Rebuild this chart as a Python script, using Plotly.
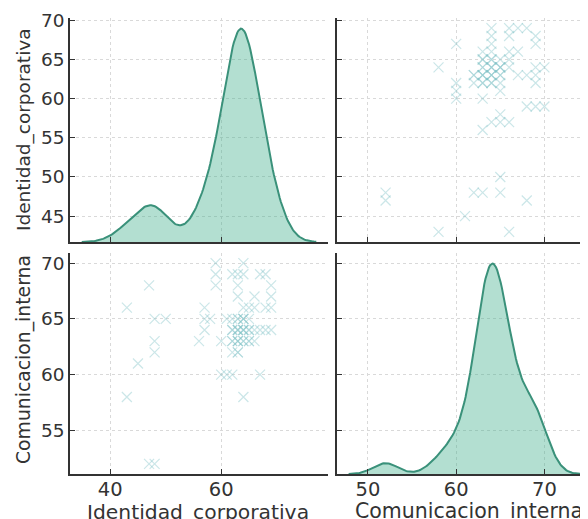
import numpy as np
import plotly.graph_objects as go

# ---- data (paired observations) ----
identidad_corporativa = [43, 43, 45, 47, 47, 48, 48, 48, 48, 50,
                         56, 57, 57, 58, 57, 59, 59, 59, 60, 60, 61, 62, 67, 64,
                         61, 62, 63, 64, 65,
                         62, 63, 64, 65, 66, 67, 68, 69,
                         62, 63, 64, 65, 66,
                         62, 63,
                         64, 62, 63, 64, 67, 68,
                         63, 69,
                         63, 66, 69,
                         64, 65, 66, 68, 69,
                         62, 63, 63, 64, 64, 65,
                         63, 63, 64, 65, 62,
                         63, 64, 64,
                         63]
comunicacion_interna = [66, 58, 61, 68, 52, 52, 65, 63, 62, 65,
                        63, 66, 65, 65, 64, 70, 69, 68, 63, 60, 60, 60, 60, 58,
                        65, 65, 65, 65, 65,
                        64, 64, 64, 64, 64, 64, 64, 64,
                        63, 63, 63, 63, 63,
                        62, 62,
                        70, 69, 69, 69, 69, 69,
                        68, 68,
                        67, 67, 67,
                        66, 66, 66, 66, 66,
                        64, 64, 64, 64, 64, 64,
                        63, 63, 63, 63, 63,
                        65, 65, 65,
                        62]
var_names = ["Identidad_corporativa", "Comunicacion_interna"]
ticks_ident = [40, 60]
ticks_ident_y = [45, 50, 55, 60, 65, 70]
ticks_comm = [50, 60, 70]
ticks_comm_y = [55, 60, 65, 70]

# the page body adds an 8px offset; lay the figure out in reference pixels minus it
OFF = 8
W, H = 588 - OFF, 519 - OFF
ML, MR, MT, MB = 70 - OFF, 0, 18 - OFF, 519 - 474
PW, PH = W - ML - MR, H - MT - MB


def kde(values, cut=3, gridsize=200):
    v = np.asarray(values, float)
    n = len(v)
    bw = v.std(ddof=1) * n ** (-1 / 5)
    xs = np.linspace(v.min() - cut * bw, v.max() + cut * bw, gridsize)
    d = np.exp(-0.5 * ((xs[:, None] - v[None, :]) / bw) ** 2).sum(1) / (n * bw * np.sqrt(2 * np.pi))
    return xs, d


xi, di = kde(identidad_corporativa)
xc, dc = kde(comunicacion_interna)


def pad(lo, hi):
    m = 0.05 * (hi - lo)
    return [lo - m, hi + m]


def pxx(a, b):  # reference pixels -> paper fraction
    return [(a - OFF - ML) / PW, (b - OFF - ML) / PW]


def pxy(top, bottom):
    return [(MT + PH - (bottom - OFF)) / PH, (MT + PH - (top - OFF)) / PH]


col1 = pxx(70, 328)
col2 = pxx(337, 588)
row1 = pxy(18, 242)
row2 = pxy(253, 474)

xr1 = pad(xi[0], xi[-1])
c_full = pad(xc[0], xc[-1])
# right column is cropped at the picture edge like the reference
xr2 = [c_full[0], c_full[0] + (c_full[1] - c_full[0]) * (588 - 337) / (593 - 337)]
yr1 = pad(min(identidad_corporativa), max(identidad_corporativa))
yr2 = pad(min(comunicacion_interna), max(comunicacion_interna))
dr1 = [0, di.max() * 1.05]
dr2 = [0, dc.max() * 1.05]


def to_density(vals, yr, dr):
    return [(v - yr[0]) / (yr[1] - yr[0]) * dr[1] for v in vals]


line_col = "#3a917a"
fill_col = "rgba(64,176,140,0.40)"
mk_col = "rgba(130,195,200,0.42)"
grid_col = "#d9d9d9"
axis_col = "#333333"
txt_col = "#333333"
xfont = dict(family="DejaVu Sans", size=19.5, color=txt_col)
yfont = dict(family="DejaVu Sans", size=18.5, color=txt_col)

fig = go.Figure()
fig.add_trace(go.Scatter(x=xi, y=di, xaxis="x", yaxis="y", mode="lines",
                         line=dict(color=line_col, width=2), fill="tozeroy",
                         fillcolor=fill_col, showlegend=False))
fig.add_trace(go.Scatter(x=comunicacion_interna, y=identidad_corporativa, xaxis="x2", yaxis="y2",
                         mode="markers", marker=dict(symbol="x-thin-open", size=10, color=mk_col,
                                                     line=dict(width=1.2)),
                         showlegend=False))
fig.add_trace(go.Scatter(x=identidad_corporativa, y=comunicacion_interna, xaxis="x3", yaxis="y3",
                         mode="markers", marker=dict(symbol="x-thin-open", size=10, color=mk_col,
                                                     line=dict(width=1.2)),
                         showlegend=False))
fig.add_trace(go.Scatter(x=xc, y=dc, xaxis="x4", yaxis="y4", mode="lines",
                         line=dict(color=line_col, width=2), fill="tozeroy",
                         fillcolor=fill_col, showlegend=False))

common = dict(showline=True, linecolor=axis_col, linewidth=1.5, ticks="inside", ticklen=5,
              tickwidth=1.2, tickcolor=axis_col, showgrid=True, gridcolor=grid_col,
              griddash="3px,3px", gridwidth=1, zeroline=False, mirror=False, fixedrange=True)

fig.update_layout(
    width=W, height=H, margin=dict(l=ML, r=MR, t=MT, b=MB),
    paper_bgcolor="white", plot_bgcolor="white", showlegend=False,
    xaxis=dict(domain=col1, anchor="y", range=xr1, tickvals=ticks_ident, showticklabels=False, **common),
    yaxis=dict(domain=row1, anchor="x", range=dr1, tickvals=to_density(ticks_ident_y, yr1, dr1),
               ticktext=[str(t) for t in ticks_ident_y], tickfont=yfont, **common),
    xaxis2=dict(domain=col2, anchor="y2", range=xr2, tickvals=ticks_comm, showticklabels=False, **common),
    yaxis2=dict(domain=row1, anchor="x2", range=yr1, tickvals=ticks_ident_y, showticklabels=False, **common),
    xaxis3=dict(domain=col1, anchor="y3", range=xr1, tickvals=ticks_ident, tickfont=xfont,
                ticklabelstandoff=-3, **common),
    yaxis3=dict(domain=row2, anchor="x3", range=yr2, tickvals=ticks_comm_y, tickfont=yfont, **common),
    xaxis4=dict(domain=col2, anchor="y4", range=xr2, tickvals=ticks_comm, tickfont=xfont,
                ticklabelstandoff=-3, **common),
    yaxis4=dict(domain=row2, anchor="x4", range=dr2, tickvals=to_density(ticks_comm_y, yr2, dr2),
                showticklabels=False, **common),
)


def ref_x(px):
    return (px - OFF - ML) / PW


def ref_y(py):
    return (MT + PH - (py - OFF)) / PH


annos = [
    dict(text=var_names[0], x=ref_x(198), y=ref_y(512), textangle=0, font=dict(xfont, size=20.3)),
    dict(text=var_names[1], x=ref_x(469), y=ref_y(512), textangle=0, font=dict(xfont, size=20.5)),
    dict(text=var_names[0], x=ref_x(24), y=ref_y(130), textangle=-90, font=dict(yfont, size=18.5)),
    dict(text=var_names[1], x=ref_x(24), y=ref_y(360), textangle=-90, font=dict(yfont, size=18.8)),
]
for a in annos:
    fig.add_annotation(xref="paper", yref="paper", showarrow=False,
                       xanchor="center", yanchor="middle", **a)

fig.write_html("out.html")
